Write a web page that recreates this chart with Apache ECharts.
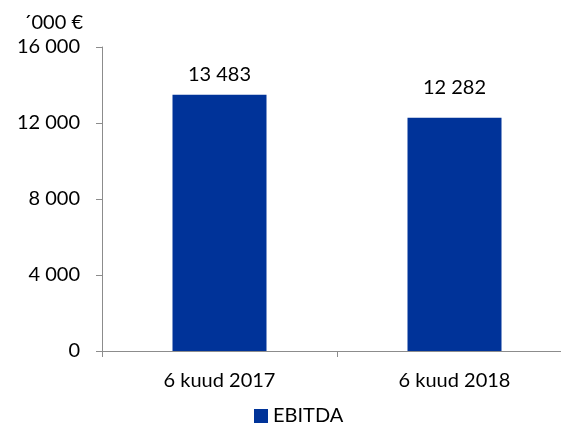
<!DOCTYPE html>
<html><head><meta charset="utf-8">
<script src="https://cdn.jsdelivr.net/npm/echarts@6/dist/echarts.min.js"></script>
<style>html,body{margin:0;padding:0;background:#fff;overflow:hidden}#c{width:580px;height:423px}</style>
</head><body><div id="c"></div>
<script>
var categories = ['6 kuud 2017', '6 kuud 2018'];
var ebitda = [13483, 12282];
var seriesName = 'EBITDA';
var unitLabel = '´000 €';
var yMin = 0, yMax = 16000, yStep = 4000;

function fmt(v){ return String(Math.round(v)).replace(/\B(?=(\d{3})+(?!\d))/g, ' '); }
var labelDistances = [10, 20];
var FONT = 'Lato';
var chart = echarts.init(document.getElementById('c'), null, {renderer:'canvas'});
chart.setOption({
  animation: false,
  textStyle: {fontFamily: FONT, color: '#000'},
  grid: {left: 102, top: 47, bottom: 72, width: 470, containLabel: false},
  graphic: [{type:'text', x: 83, y: 13, style:{text: unitLabel, font: '20px ' + FONT, fill:'#000', textAlign:'right', textVerticalAlign:'top'}}],
  legend: {left: 249, top: 401, itemWidth: 14, itemHeight: 14, itemGap: 10,
    textStyle: {fontFamily: FONT, fontSize: 20, color: '#000'},
    data: [{name: seriesName, icon: 'rect'}]},
  xAxis: {type:'category', data: categories,
    axisLine:{lineStyle:{color:'#8c8c8c', width:1}},
    axisTick:{show:true, alignWithLabel:false, length:6, lineStyle:{color:'#8c8c8c'}},
    axisLabel:{fontSize:20, color:'#000', fontFamily: FONT, margin: 20}},
  yAxis: {type:'value', min:yMin, max:yMax, interval:yStep,
    axisLine:{show:true, lineStyle:{color:'#8c8c8c', width:1}},
    axisTick:{show:true, length:6, lineStyle:{color:'#8c8c8c'}},
    splitLine:{show:false},
    axisLabel:{fontSize:20, color:'#000', fontFamily: FONT, margin: 22, formatter: fmt}},
  series: [{name: seriesName, type:'bar', barWidth: 94,
    itemStyle:{color:'#003399'},
    data: ebitda.map(function(v,i){ return {value:v, label:{distance: labelDistances[i]}}; }),
    label:{show:true, position:'top', fontSize:20, color:'#000', fontFamily: FONT, formatter:function(p){return fmt(p.value);}}}]
});
</script></body></html>
